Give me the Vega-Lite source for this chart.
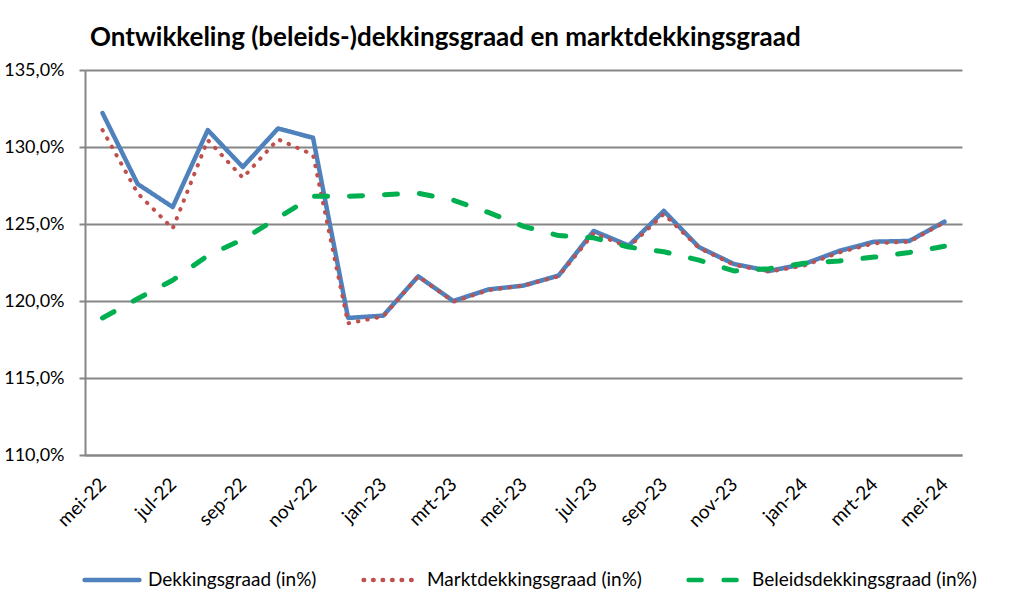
{
  "$schema": "https://vega.github.io/schema/vega-lite/v6.json",
  "width": 877,
  "height": 385,
  "autosize": "none",
  "padding": {"left": 85, "top": 70, "right": 63, "bottom": 154},
  "background": "white",
  "title": {"text": "Ontwikkeling (beleids-)dekkingsgraad en marktdekkingsgraad", "anchor": "start", "frame": "group", "dx": 5, "offset": 10, "font": "Lato", "fontSize": 26, "fontWeight": "bold", "color": "#000000"},
  "config": {"view": {"stroke": null}},
  "data": {"values": [
    {"maand": "mei-22", "reeks": "Dekkingsgraad (in%)", "waarde": 132.2},
    {"maand": "jun-22", "reeks": "Dekkingsgraad (in%)", "waarde": 127.6},
    {"maand": "jul-22", "reeks": "Dekkingsgraad (in%)", "waarde": 126.1},
    {"maand": "aug-22", "reeks": "Dekkingsgraad (in%)", "waarde": 131.1},
    {"maand": "sep-22", "reeks": "Dekkingsgraad (in%)", "waarde": 128.7},
    {"maand": "okt-22", "reeks": "Dekkingsgraad (in%)", "waarde": 131.2},
    {"maand": "nov-22", "reeks": "Dekkingsgraad (in%)", "waarde": 130.6},
    {"maand": "dec-22", "reeks": "Dekkingsgraad (in%)", "waarde": 118.9},
    {"maand": "jan-23", "reeks": "Dekkingsgraad (in%)", "waarde": 119.05},
    {"maand": "feb-23", "reeks": "Dekkingsgraad (in%)", "waarde": 121.6},
    {"maand": "mrt-23", "reeks": "Dekkingsgraad (in%)", "waarde": 120.0},
    {"maand": "apr-23", "reeks": "Dekkingsgraad (in%)", "waarde": 120.75},
    {"maand": "mei-23", "reeks": "Dekkingsgraad (in%)", "waarde": 121.0},
    {"maand": "jun-23", "reeks": "Dekkingsgraad (in%)", "waarde": 121.65},
    {"maand": "jul-23", "reeks": "Dekkingsgraad (in%)", "waarde": 124.55},
    {"maand": "aug-23", "reeks": "Dekkingsgraad (in%)", "waarde": 123.6},
    {"maand": "sep-23", "reeks": "Dekkingsgraad (in%)", "waarde": 125.85},
    {"maand": "okt-23", "reeks": "Dekkingsgraad (in%)", "waarde": 123.5},
    {"maand": "nov-23", "reeks": "Dekkingsgraad (in%)", "waarde": 122.4},
    {"maand": "dec-23", "reeks": "Dekkingsgraad (in%)", "waarde": 121.95},
    {"maand": "jan-24", "reeks": "Dekkingsgraad (in%)", "waarde": 122.4},
    {"maand": "feb-24", "reeks": "Dekkingsgraad (in%)", "waarde": 123.25},
    {"maand": "mrt-24", "reeks": "Dekkingsgraad (in%)", "waarde": 123.85},
    {"maand": "apr-24", "reeks": "Dekkingsgraad (in%)", "waarde": 123.9},
    {"maand": "mei-24", "reeks": "Dekkingsgraad (in%)", "waarde": 125.15},
    {"maand": "mei-22", "reeks": "Marktdekkingsgraad (in%)", "waarde": 131.1},
    {"maand": "jun-22", "reeks": "Marktdekkingsgraad (in%)", "waarde": 127.0},
    {"maand": "jul-22", "reeks": "Marktdekkingsgraad (in%)", "waarde": 124.7},
    {"maand": "aug-22", "reeks": "Marktdekkingsgraad (in%)", "waarde": 130.45},
    {"maand": "sep-22", "reeks": "Marktdekkingsgraad (in%)", "waarde": 128.0},
    {"maand": "okt-22", "reeks": "Marktdekkingsgraad (in%)", "waarde": 130.5},
    {"maand": "nov-22", "reeks": "Marktdekkingsgraad (in%)", "waarde": 129.5},
    {"maand": "dec-22", "reeks": "Marktdekkingsgraad (in%)", "waarde": 118.55},
    {"maand": "jan-23", "reeks": "Marktdekkingsgraad (in%)", "waarde": 119.0},
    {"maand": "feb-23", "reeks": "Marktdekkingsgraad (in%)", "waarde": 121.6},
    {"maand": "mrt-23", "reeks": "Marktdekkingsgraad (in%)", "waarde": 119.95},
    {"maand": "apr-23", "reeks": "Marktdekkingsgraad (in%)", "waarde": 120.7},
    {"maand": "mei-23", "reeks": "Marktdekkingsgraad (in%)", "waarde": 121.0},
    {"maand": "jun-23", "reeks": "Marktdekkingsgraad (in%)", "waarde": 121.6},
    {"maand": "jul-23", "reeks": "Marktdekkingsgraad (in%)", "waarde": 124.4},
    {"maand": "aug-23", "reeks": "Marktdekkingsgraad (in%)", "waarde": 123.5},
    {"maand": "sep-23", "reeks": "Marktdekkingsgraad (in%)", "waarde": 125.65},
    {"maand": "okt-23", "reeks": "Marktdekkingsgraad (in%)", "waarde": 123.45},
    {"maand": "nov-23", "reeks": "Marktdekkingsgraad (in%)", "waarde": 122.35},
    {"maand": "dec-23", "reeks": "Marktdekkingsgraad (in%)", "waarde": 121.9},
    {"maand": "jan-24", "reeks": "Marktdekkingsgraad (in%)", "waarde": 122.3},
    {"maand": "feb-24", "reeks": "Marktdekkingsgraad (in%)", "waarde": 123.15},
    {"maand": "mrt-24", "reeks": "Marktdekkingsgraad (in%)", "waarde": 123.75},
    {"maand": "apr-24", "reeks": "Marktdekkingsgraad (in%)", "waarde": 123.85},
    {"maand": "mei-24", "reeks": "Marktdekkingsgraad (in%)", "waarde": 125.1},
    {"maand": "mei-22", "reeks": "Beleidsdekkingsgraad (in%)", "waarde": 118.9},
    {"maand": "jun-22", "reeks": "Beleidsdekkingsgraad (in%)", "waarde": 120.15},
    {"maand": "jul-22", "reeks": "Beleidsdekkingsgraad (in%)", "waarde": 121.35},
    {"maand": "aug-22", "reeks": "Beleidsdekkingsgraad (in%)", "waarde": 122.95},
    {"maand": "sep-22", "reeks": "Beleidsdekkingsgraad (in%)", "waarde": 124.0},
    {"maand": "okt-22", "reeks": "Beleidsdekkingsgraad (in%)", "waarde": 125.4},
    {"maand": "nov-22", "reeks": "Beleidsdekkingsgraad (in%)", "waarde": 126.8},
    {"maand": "dec-22", "reeks": "Beleidsdekkingsgraad (in%)", "waarde": 126.8},
    {"maand": "jan-23", "reeks": "Beleidsdekkingsgraad (in%)", "waarde": 126.9},
    {"maand": "feb-23", "reeks": "Beleidsdekkingsgraad (in%)", "waarde": 127.0},
    {"maand": "mrt-23", "reeks": "Beleidsdekkingsgraad (in%)", "waarde": 126.55},
    {"maand": "apr-23", "reeks": "Beleidsdekkingsgraad (in%)", "waarde": 125.75},
    {"maand": "mei-23", "reeks": "Beleidsdekkingsgraad (in%)", "waarde": 124.85},
    {"maand": "jun-23", "reeks": "Beleidsdekkingsgraad (in%)", "waarde": 124.25},
    {"maand": "jul-23", "reeks": "Beleidsdekkingsgraad (in%)", "waarde": 124.1},
    {"maand": "aug-23", "reeks": "Beleidsdekkingsgraad (in%)", "waarde": 123.5},
    {"maand": "sep-23", "reeks": "Beleidsdekkingsgraad (in%)", "waarde": 123.2},
    {"maand": "okt-23", "reeks": "Beleidsdekkingsgraad (in%)", "waarde": 122.65},
    {"maand": "nov-23", "reeks": "Beleidsdekkingsgraad (in%)", "waarde": 121.95},
    {"maand": "dec-23", "reeks": "Beleidsdekkingsgraad (in%)", "waarde": 122.1},
    {"maand": "jan-24", "reeks": "Beleidsdekkingsgraad (in%)", "waarde": 122.45},
    {"maand": "feb-24", "reeks": "Beleidsdekkingsgraad (in%)", "waarde": 122.6},
    {"maand": "mrt-24", "reeks": "Beleidsdekkingsgraad (in%)", "waarde": 122.85},
    {"maand": "apr-24", "reeks": "Beleidsdekkingsgraad (in%)", "waarde": 123.15},
    {"maand": "mei-24", "reeks": "Beleidsdekkingsgraad (in%)", "waarde": 123.55}
  ]},
  "encoding": {
    "x": {
      "field": "maand", "type": "ordinal",
      "sort": ["mei-22","jun-22","jul-22","aug-22","sep-22","okt-22","nov-22","dec-22","jan-23","feb-23","mrt-23","apr-23","mei-23","jun-23","jul-23","aug-23","sep-23","okt-23","nov-23","dec-23","jan-24","feb-24","mrt-24","apr-24","mei-24"],
      "scale": {"type": "point", "padding": 0.5},
      "axis": {
        "values": ["mei-22","jul-22","sep-22","nov-22","jan-23","mrt-23","mei-23","jul-23","sep-23","nov-23","jan-24","mrt-24","mei-24"],
        "title": null, "labelAngle": -45, "labelAlign": "right", "labelBaseline": "middle",
        "labelPadding": 26, "labelOverlap": false, "labelFont": "Lato", "labelFontSize": 19, "labelColor": "#000000",
        "ticks": false, "grid": false, "domain": true, "domainColor": "#868686", "domainWidth": 2
      }
    },
    "y": {
      "field": "waarde", "type": "quantitative",
      "scale": {"domain": [110, 135], "zero": false, "nice": false},
      "axis": {
        "values": [110, 115, 120, 125, 130, 135], "title": null,
        "labelExpr": "replace(format(datum.value, '.1f'), '.', ',') + '%'",
        "labelFont": "Lato", "labelFontSize": 18, "labelColor": "#000000", "labelPadding": 15,
        "grid": true, "gridColor": "#868686", "gridWidth": 2,
        "domain": true, "domainColor": "#868686", "domainWidth": 2,
        "ticks": true, "tickSize": 6, "tickColor": "#868686", "tickWidth": 2
      }
    },
    "color": {
      "field": "reeks", "type": "nominal",
      "scale": {"domain": ["Dekkingsgraad (in%)", "Marktdekkingsgraad (in%)", "Beleidsdekkingsgraad (in%)"], "range": ["#4F81BD", "#C0504D", "#00B050"]},
      "legend": {
        "orient": "none", "legendX": -3, "legendY": 480, "direction": "horizontal", "title": null,
        "symbolType": "stroke", "symbolSize": 3000, "symbolStrokeWidth": 4.5,
        "labelFont": "Lato", "labelFontSize": 19, "labelColor": "#000000", "labelOffset": 6, "columnPadding": 37, "labelLimit": 400,
        "encode": {"symbols": {"update": {"strokeCap": {"value": "round"}}}}
      }
    },
    "strokeDash": {
      "field": "reeks", "type": "nominal",
      "scale": {"domain": ["Dekkingsgraad (in%)", "Marktdekkingsgraad (in%)", "Beleidsdekkingsgraad (in%)"], "range": [[1, 0], [0.5, 9], [13, 22]]},
      "legend": {
        "orient": "none", "legendX": -3, "legendY": 480, "direction": "horizontal", "title": null,
        "symbolType": "stroke", "symbolSize": 3000, "symbolStrokeWidth": 4.5,
        "labelFont": "Lato", "labelFontSize": 19, "labelColor": "#000000", "labelOffset": 6, "columnPadding": 37, "labelLimit": 400,
        "encode": {"symbols": {"update": {"strokeCap": {"value": "round"}}}}
      }
    }
  },
  "layer": [
    {"transform": [{"filter": "datum.reeks === 'Dekkingsgraad (in%)'"}], "mark": {"type": "line", "strokeWidth": 4.5, "strokeCap": "round", "strokeJoin": "round"}},
    {"transform": [{"filter": "datum.reeks === 'Marktdekkingsgraad (in%)'"}], "mark": {"type": "line", "strokeWidth": 4, "strokeCap": "round", "strokeJoin": "round"}},
    {"transform": [{"filter": "datum.reeks === 'Beleidsdekkingsgraad (in%)'"}], "mark": {"type": "line", "strokeWidth": 5, "strokeCap": "round", "strokeJoin": "round"}}
  ]
}
